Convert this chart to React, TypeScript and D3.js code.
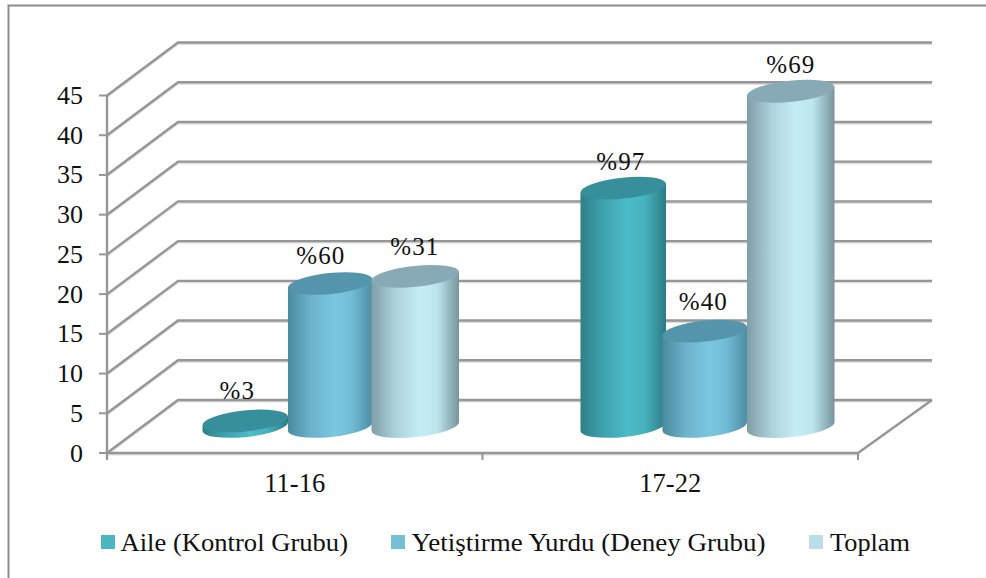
import React from 'react';
import * as d3 from 'd3';

const categories = ['11-16', '17-22'];
const seriesNames = ['Aile (Kontrol Grubu)', 'Yetiştirme Yurdu (Deney Grubu)', 'Toplam'];
const aile = [0.7, 30];
const yurt = [18, 12];
const toplam = [18.9, 42.2];
const labelsAile = ['%3', '%97'];
const labelsYurt = ['%60', '%40'];
const labelsToplam = ['%31', '%69'];
const ticks = [0, 5, 10, 15, 20, 25, 30, 35, 40, 45];

const W = 986, H = 578;
const x0 = 107, x1 = 858, yBase = 453, yTop = 95.5;
const dx = 71, dy = -53;
const backEnd = 932;
const y = d3.scaleLinear().domain([0, 45]).range([yBase, yTop]);
const xGroup = d3.scaleBand<string>().domain(categories).range([x0, x1]);
const RY = 10.5, TILT = -6;
const radii = [43, 42.5, 44];
const STEP = 84;
const serif = '"Liberation Serif", serif';
const GRID = '#969696';
const SHADOW = '#dddddd';

// layout nudges (px), [series][category]
const barNudge = [[-1, 1.5], [0, -1], [1, 1]];
const labelNudge = [[-8, -2.5], [-9.5, -1.5], [-0.5, 0]];
const labelRise = [[22, 18], [20, 21], [21, 18]];

const palettes = [
  { id: 'g0', top: '#378f9c', stops: ['#2f7f88', '#3ea3ae', '#4cbcc8', '#47b2bd', '#2c7b84'] },
  { id: 'g1', top: '#5595ab', stops: ['#4a8a9e', '#6db3cb', '#7ac6e0', '#72bcd6', '#4d8ea3'] },
  { id: 'g2', top: '#88a9b6', stops: ['#7f9ea6', '#aed2da', '#c4edf6', '#bde5ee', '#76949a'] },
];
const stopOffsets = [0, 0.28, 0.55, 0.75, 1];

function cylinder(cx: number, v: number, RX: number) {
  const base = yBase + dy / 2;
  const topY = base - (yBase - y(v));
  const t = (TILT * Math.PI) / 180;
  const ex = RX * Math.cos(t), ey = RX * Math.sin(t);
  const sweepBody = `A${RX} ${RY} ${TILT} 0 1 ${cx - ex} ${base - ey}`;
  const body = `M${cx - ex} ${topY - ey}L${cx + ex} ${topY + ey}L${cx + ex} ${base + ey}${sweepBody}Z`;
  return { body, topY };
}

export default function App() {
  const series = [aile, yurt, toplam];
  const labels = [labelsAile, labelsYurt, labelsToplam];
  const legendX = [101, 391, 809];
  const legendText = [120.5, 411.5, 830];
  const legendLen = [227.5, 354, 80];
  const legendColor = ['#4bb6c4', '#75c0d6', '#b8dfe9'];
  return (
    <svg width={W} height={H} style={{ position: 'absolute', left: 0, top: 0, background: '#fff' }}>
      <defs>
        {palettes.map(p => (
          <linearGradient key={p.id} id={p.id} x1="0" x2="1" y1="0" y2="0">
            {p.stops.map((c, i) => <stop key={i} offset={stopOffsets[i]} stopColor={c} />)}
          </linearGradient>
        ))}
      </defs>
      <path d={`M8.5 ${H}V5.5H${W}`} fill="none" stroke="#8c8c8c" strokeWidth={2} />
      {ticks.map(t => (
        <g key={t}>
          <path d={`M${x0} ${y(t) + 1.5}L${x0 + dx} ${y(t) + dy + 1.5}H${backEnd}`} fill="none" stroke={SHADOW} strokeWidth={2} />
          <path d={`M${x0} ${y(t)}L${x0 + dx} ${y(t) + dy}H${backEnd}`} fill="none" stroke={GRID} strokeWidth={2.4} />
          <line x1={x0 - 8} x2={x0} y1={y(t)} y2={y(t)} stroke={GRID} strokeWidth={2} />
          <text x={x0 - 24} y={y(t) + 8.5} textAnchor="end" fontFamily={serif} fontSize={26} fill="#111">{t}</text>
        </g>
      ))}
      <line x1={x0} x2={x0} y1={yTop} y2={yBase + 6} stroke={GRID} strokeWidth={2.4} />
      <line x1={x0} x2={x1} y1={yBase + 1.5} y2={yBase + 1.5} stroke={SHADOW} strokeWidth={2} />
      <line x1={x0} x2={x1} y1={yBase} y2={yBase} stroke={GRID} strokeWidth={2.4} />
      <line x1={x1} x2={backEnd} y1={yBase} y2={yBase + dy} stroke={GRID} strokeWidth={2.4} />
      {[x0, xGroup(categories[1])!, x1].map(v => (
        <line key={v} x1={v} x2={v} y1={yBase} y2={yBase + 7} stroke={GRID} strokeWidth={2} />
      ))}
      {categories.map((c, ci) => {
        const center = xGroup(c)! + xGroup.bandwidth() / 2;
        return (
          <g key={c}>
            <text x={center} y={491.5} textAnchor="middle" fontFamily={serif} fontSize={26.5} fill="#111">{c}</text>
            {series.map((s, si) => {
              const cx = center + dx / 2 + (si - 1) * STEP + barNudge[si][ci];
              const { body, topY } = cylinder(cx, s[ci], radii[si]);
              return (
                <g key={si}>
                  <path d={body} fill={`url(#${palettes[si].id})`} />
                  <ellipse cx={cx} cy={topY} rx={radii[si]} ry={RY} transform={`rotate(${TILT} ${cx} ${topY})`} fill={palettes[si].top} />
                  <text x={cx + labelNudge[si][ci]} y={topY - labelRise[si][ci]} textAnchor="middle" fontFamily={serif} fontSize={25} letterSpacing={1} fill="#111">{labels[si][ci]}</text>
                </g>
              );
            })}
          </g>
        );
      })}
      {seriesNames.map((n, i) => (
        <g key={n}>
          <rect x={legendX[i]} y={535} width={14} height={14} fill={legendColor[i]} />
          <text x={legendText[i]} y={551} fontFamily={serif} fontSize={26} textLength={legendLen[i]} lengthAdjust="spacingAndGlyphs" fill="#111">{n}</text>
        </g>
      ))}
    </svg>
  );
}
